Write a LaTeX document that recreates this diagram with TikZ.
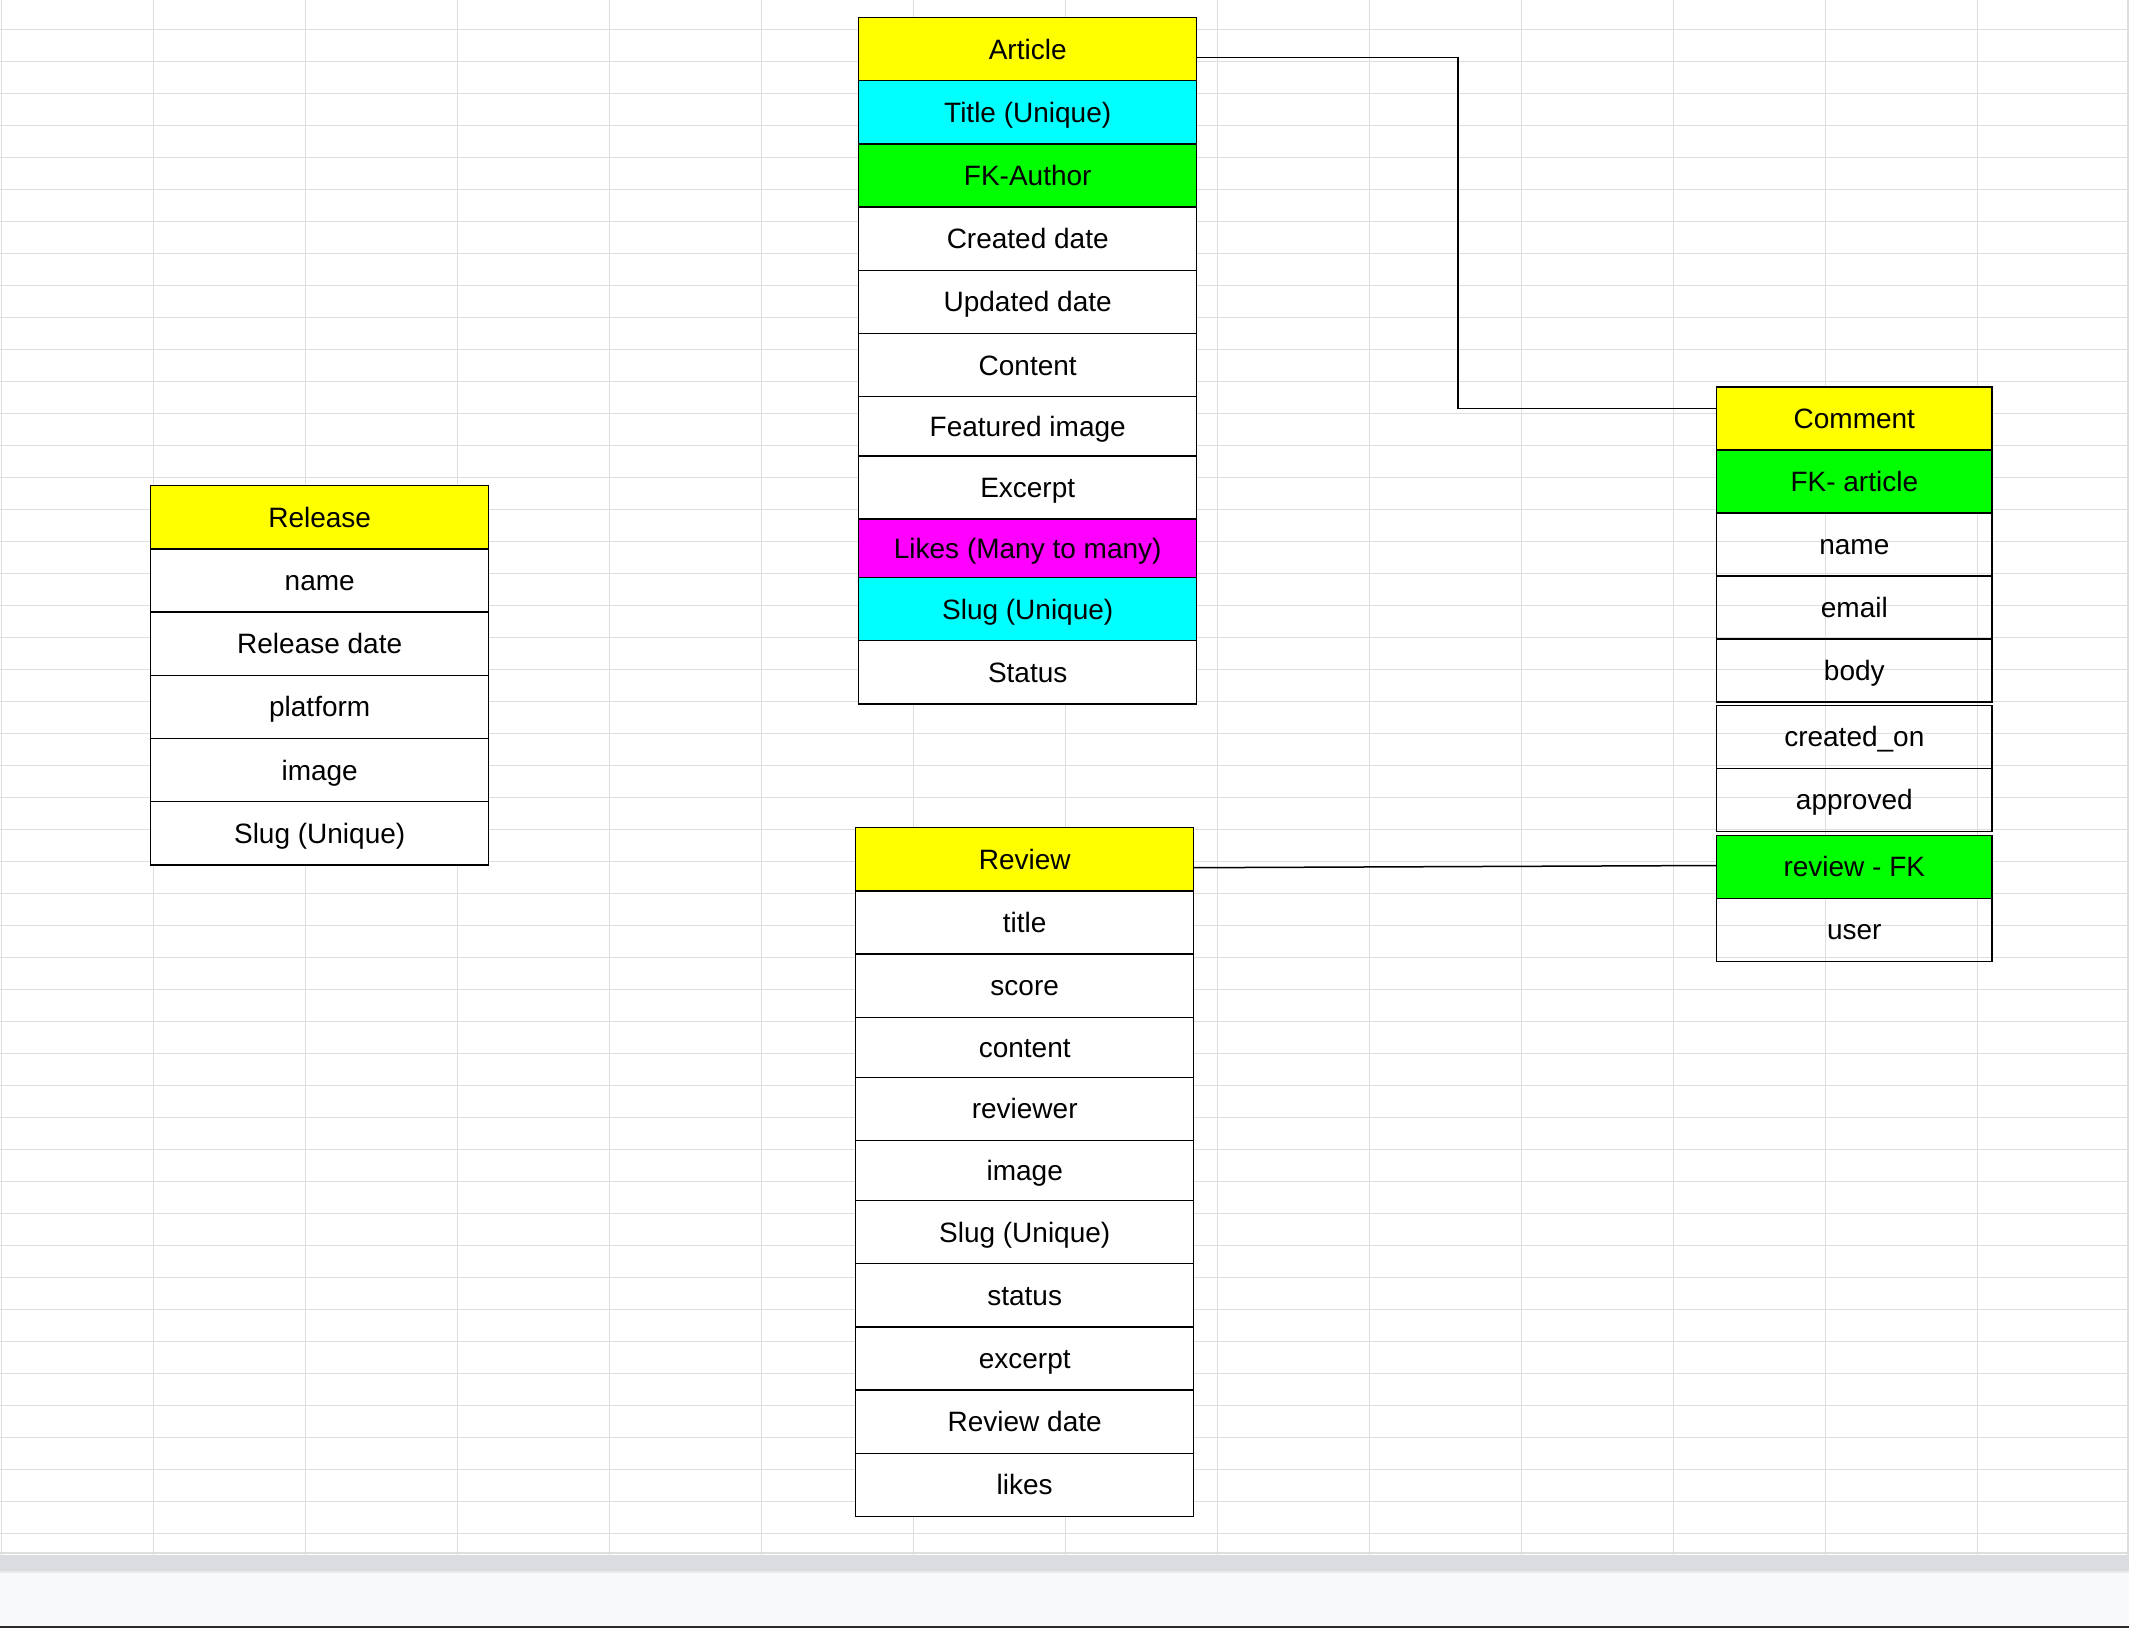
\documentclass[tikz,border=0pt]{standalone}
\usepackage{fontspec}
\setmainfont{Liberation Sans}
\usetikzlibrary{positioning}

\definecolor{hdyellow}{HTML}{FFFF00}
\definecolor{keycyan}{HTML}{00FFFF}
\definecolor{keygreen}{HTML}{00FF00}
\definecolor{keymagenta}{HTML}{FF00FF}
\definecolor{sheetgrid}{HTML}{DEDEDE}
\definecolor{bargray}{HTML}{DADCE0}
\definecolor{barline}{HTML}{E8EAED}
\definecolor{barlight}{HTML}{F8F9FA}
\definecolor{bardark}{HTML}{2B2B2B}

\tikzset{
    cell/.style={draw,line width=0.7pt,fill=white,minimum width=169pt,minimum height=31.6pt,
        inner sep=0pt,outer sep=0pt,text height=10pt,text depth=0pt,font=\fontsize{14}{16}\selectfont},
    cmtcell/.style={cell,fill=none,minimum width=137.6pt,minimum height=31.5pt},
    gridline/.style={sheetgrid,line width=0.65pt},
    link/.style={line width=0.75pt}
}

\begin{document}
\begin{tikzpicture}[x=0.5pt,y=-0.5pt]
    \useasboundingbox (0,0) rectangle (2129,1628);

    % spreadsheet background
    \foreach \i in {0,...,13} \draw[gridline](1.5+152*\i,0)--(1.5+152*\i,1555);
    \draw[gridline](2128,0)--(2128,1555);
    \foreach \j in {0,...,47} \draw[gridline](0,29.7+32*\j)--(2129,29.7+32*\j);
    \draw[gridline](0,1553)--(2129,1553);
    \fill[bargray](0,1555)rectangle(2129,1571);
    \draw[barline,line width=0.6pt](0,1572)--(2129,1572);
    \fill[barlight](0,1572.6)rectangle(2129,1625.5);
    \fill[bardark](0,1625.5)rectangle(2129,1628);

    % Release
    \node[cell,fill=hdyellow,anchor=north west] (release) at (150.7,485.7) {Release};
    \node[cell,below=0pt of release] (rel1) {name};
    \node[cell,below=0pt of rel1] (rel2) {Release date};
    \node[cell,below=0pt of rel2] (rel3) {platform};
    \node[cell,below=0pt of rel3] (rel4) {image};
    \node[cell,below=0pt of rel4] (rel5) {Slug (Unique)};

    % Article
    \node[cell,fill=hdyellow,anchor=north west] (article) at (858.7,17.5) {Article};
    \node[cell,fill=keycyan,below=0pt of article] (art1) {Title (Unique)};
    \node[cell,fill=keygreen,below=0pt of art1] (art2) {FK-Author};
    \node[cell,below=0pt of art2] (art3) {Created date};
    \node[cell,below=0pt of art3] (art4) {Updated date};
    \node[cell,below=0pt of art4] (art5) {Content};
    \node[cell,minimum height=29.6pt,below=0pt of art5] (art6) {Featured image};
    \node[cell,below=0pt of art6] (art7) {Excerpt};
    \node[cell,fill=keymagenta,minimum height=29.2pt,below=0pt of art7] (art8) {Likes (Many to many)};
    \node[cell,fill=keycyan,below=0pt of art8] (art9) {Slug (Unique)};
    \node[cell,below=0pt of art9] (art10) {Status};

    % Review
    \node[cell,fill=hdyellow,anchor=north west] (review) at (855.7,827.7) {Review};
    \node[cell,below=0pt of review] (rev1) {title};
    \node[cell,below=0pt of rev1] (rev2) {score};
    \node[cell,minimum height=30pt,below=0pt of rev2] (rev3) {content};
    \node[cell,below=0pt of rev3] (rev4) {reviewer};
    \node[cell,minimum height=30pt,below=0pt of rev4] (rev5) {image};
    \node[cell,below=0pt of rev5] (rev6) {Slug (Unique)};
    \node[cell,below=0pt of rev6] (rev7) {status};
    \node[cell,below=0pt of rev7] (rev8) {excerpt};
    \node[cell,below=0pt of rev8] (rev9) {Review date};
    \node[cell,below=0pt of rev9] (rev10) {likes};

    % Comment
    \node[cmtcell,fill=hdyellow,anchor=north west] (comment) at (1716.7,387) {Comment};
    \node[cmtcell,fill=keygreen,below=0pt of comment] (com1) {FK- article};
    \node[cmtcell,below=0pt of com1] (com2) {name};
    \node[cmtcell,below=0pt of com2] (com3) {email};
    \node[cmtcell,below=0pt of com3] (com4) {body};
    \node[cmtcell,below=1.7pt of com4] (com5) {created\_on};
    \node[cmtcell,below=0pt of com5] (com6) {approved};
    \node[cmtcell,fill=keygreen,below=1.9pt of com6] (com7) {review - FK};
    \node[cmtcell,below=0pt of com7] (com8) {user};

    % relations
    \draw[link]([yshift=-4.1pt]article.east)--++(261.4,0)|-([yshift=4.9pt]comment.west);
    \draw[link]([yshift=-4.2pt]review.east)--([yshift=0.6pt]com7.west);
\end{tikzpicture}
\end{document}
